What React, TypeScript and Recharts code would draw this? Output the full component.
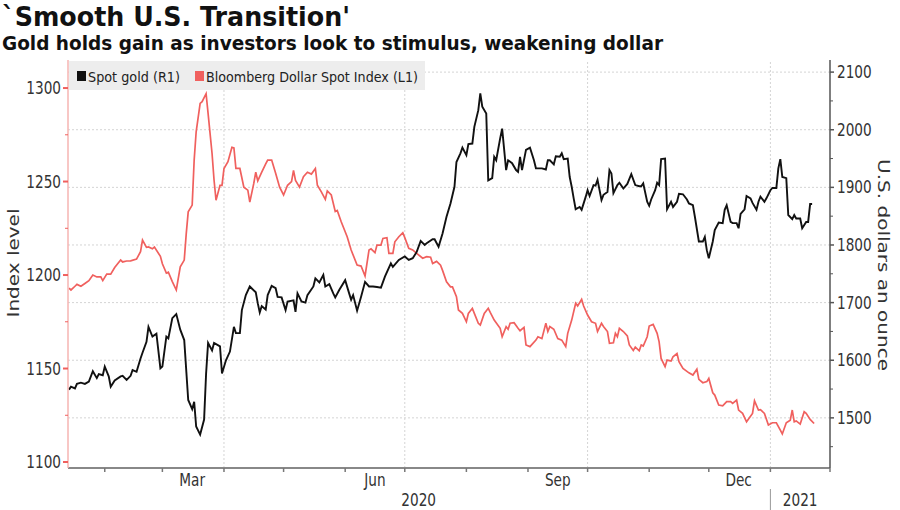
import { LineChart, Line, XAxis, YAxis, ReferenceLine } from 'recharts'

// x values are days counted from 1 Jan 2020 (day 0)
const goldDay = [
  13, 14, 16, 17, 19, 21, 23, 25, 27, 28, 30, 31, 33, 34, 36, 39, 40, 42, 44, 45, 47, 49, 50, 52, 53, 55, 57, 59, 60, 62,
  63, 65, 67, 69, 71, 73, 75, 76, 77, 79, 81, 82, 83, 85, 86, 89, 90, 92, 94, 96, 97, 99, 100, 102, 104, 107, 108, 109,
  110, 112, 113, 115, 117, 118, 120, 122, 123, 126, 127, 128, 130, 132, 133, 136, 137, 139, 141, 142, 144, 146, 147, 149,
  152, 154, 155, 156, 158, 160, 162, 164, 166, 168, 170, 172, 175, 176, 179, 182, 184, 186, 188, 190, 192, 193, 196, 197,
  199, 201, 203, 205, 207, 208, 210, 211, 213, 214, 216, 217, 219, 220, 221, 223, 224, 226, 227, 228, 230, 231, 233, 234,
  236, 238, 239, 240, 241, 243, 245, 247, 248, 251, 253, 254, 255, 257, 258, 260, 261, 262, 264, 265, 266, 267, 268, 270,
  271, 273, 274, 275, 277, 278, 279, 281, 282, 284, 285, 286, 287, 289, 290, 292, 294, 296, 298, 300, 301, 302, 304, 305,
  306, 308, 309, 310, 311, 313, 314, 316, 317, 319, 320, 322, 324, 325, 327, 328, 330, 332, 333, 334, 335, 337, 338, 340,
  342, 343, 344, 346, 347, 349, 350, 351, 353, 354, 356, 357, 359, 360, 361, 363, 364, 366, 367, 369, 370, 371, 372, 374,
  375, 377, 378, 379, 381, 382, 384, 385, 386, 387,
]
const goldPrice = [
  1549, 1554, 1551, 1559, 1561, 1559, 1563, 1581, 1569, 1576, 1574, 1589, 1572, 1554, 1565, 1572, 1573, 1566, 1573, 1583,
  1580, 1603, 1613, 1632, 1658, 1641, 1646, 1586, 1589, 1641, 1638, 1673, 1680, 1653, 1635, 1531, 1515, 1528, 1485, 1471,
  1497, 1577, 1630, 1617, 1630, 1624, 1577, 1600, 1615, 1658, 1647, 1647, 1687, 1713, 1728, 1718, 1699, 1683, 1694, 1688,
  1713, 1729, 1725, 1710, 1709, 1687, 1702, 1704, 1684, 1716, 1702, 1700, 1713, 1728, 1742, 1735, 1748, 1728, 1732, 1716,
  1709, 1722, 1739, 1716, 1705, 1713, 1686, 1710, 1736, 1728, 1728, 1727, 1726, 1745, 1768, 1762, 1774, 1780, 1774, 1777,
  1788, 1807, 1800, 1803, 1810, 1810, 1797, 1820, 1849, 1872, 1901, 1944, 1959, 1969, 1956, 1975, 1976, 2005, 2034, 2063,
  2040, 2028, 1912, 1916, 1953, 1947, 1985, 2002, 1930, 1947, 1942, 1930, 1927, 1953, 1930, 1965, 1969, 1947, 1933, 1933,
  1931, 1947, 1947, 1940, 1954, 1953, 1959, 1949, 1950, 1918, 1901, 1881, 1862, 1866, 1861, 1883, 1895, 1885, 1904, 1903,
  1913, 1878, 1887, 1892, 1930, 1924, 1890, 1904, 1908, 1898, 1906, 1923, 1904, 1902, 1902, 1907, 1875, 1868, 1879, 1895,
  1908, 1904, 1949, 1950, 1862, 1875, 1866, 1875, 1889, 1888, 1879, 1872, 1869, 1849, 1806, 1806, 1814, 1791, 1777, 1806,
  1826, 1839, 1838, 1861, 1869, 1840, 1838, 1838, 1829, 1854, 1862, 1885, 1881, 1873, 1861, 1875, 1884, 1875, 1881, 1895,
  1899, 1899, 1933, 1949, 1918, 1916, 1852, 1845, 1852, 1846, 1846, 1829, 1840, 1840, 1871, 1871,
]

const dollarDay = [
  13, 14, 16, 17, 19, 21, 23, 25, 27, 29, 30, 32, 34, 36, 39, 40, 42, 44, 47, 49, 50, 52, 53, 55, 56, 59, 60, 62, 63, 65,
  67, 69, 71, 72, 73, 75, 76, 77, 79, 80, 82, 83, 85, 86, 87, 89, 90, 91, 93, 95, 96, 97, 99, 101, 103, 104, 106, 107, 108,
  110, 112, 113, 115, 117, 119, 121, 123, 125, 126, 127, 129, 131, 133, 135, 137, 138, 140, 142, 143, 145, 147, 148, 150,
  153, 155, 158, 160, 162, 164, 165, 167, 168, 170, 171, 173, 174, 176, 177, 179, 181, 182, 184, 186, 188, 191, 193, 195,
  196, 198, 200, 201, 203, 205, 206, 208, 209, 211, 213, 214, 216, 217, 219, 220, 222, 224, 225, 227, 230, 231, 233, 234,
  235, 237, 239, 240, 242, 243, 245, 248, 249, 251, 253, 254, 255, 257, 259, 261, 263, 264, 266, 268, 269, 271, 272, 274,
  276, 278, 279, 281, 282, 284, 285, 287, 288, 289, 290, 292, 294, 295, 297, 298, 300, 301, 302, 304, 305, 307, 309, 310,
  311, 313, 314, 316, 317, 319, 320, 322, 325, 327, 329, 330, 332, 334, 335, 337, 338, 340, 342, 344, 346, 347, 349, 350,
  352, 354, 357, 358, 360, 361, 363, 365, 367, 369, 371, 372, 374, 376, 377, 378, 379, 381, 383, 384, 386, 388,
]
const dollarIndex = [
  1193, 1192, 1194, 1195, 1194, 1195.5, 1197, 1200, 1199, 1199, 1197, 1200.5, 1200.5, 1204, 1208, 1207, 1207.5, 1207.6,
  1208.5, 1212.5, 1218.7, 1214.8, 1215, 1214, 1215, 1210, 1206, 1201, 1201.5, 1196.5, 1192, 1204.4, 1208, 1222, 1233.8,
  1237.4, 1261.5, 1276.6, 1291.8, 1292.7, 1297, 1286.5, 1265, 1250.8, 1240, 1248, 1248, 1257, 1260.6, 1268.3, 1268, 1257,
  1257, 1247, 1245.4, 1239, 1249, 1255, 1250.4, 1255, 1259.4, 1261.5, 1261.5, 1254.4, 1247, 1242.8, 1248, 1250, 1256,
  1250.6, 1247, 1252.6, 1255, 1254, 1257, 1248, 1244.5, 1240.5, 1245, 1242.8, 1234, 1234.5, 1228.5, 1220.5, 1213.4,
  1205.3, 1204.8, 1199.5, 1213.4, 1214, 1212, 1216, 1216, 1219.6, 1220, 1211.6, 1211.6, 1217.8, 1220.5, 1222.6, 1220,
  1214.3, 1213.4, 1211.6, 1209, 1209.8, 1209.5, 1206.2, 1207.3, 1205.3, 1202.5, 1196.4, 1193.7, 1193.7, 1188.4, 1181.3,
  1179.5, 1175, 1179.5, 1182.2, 1179.5, 1174.2, 1173.3, 1179.5, 1182.2, 1180, 1175.9, 1171.5, 1167, 1172.4, 1171, 1174.2,
  1174.5, 1171.5, 1170.2, 1172, 1162.6, 1161.7, 1165.2, 1167, 1166, 1174.2, 1169.8, 1172.4, 1171, 1166, 1165.2, 1161.7,
  1168.8, 1175.9, 1184.9, 1183.5, 1187, 1183.4, 1178.6, 1175, 1174.2, 1169.8, 1174.2, 1172.5, 1169.8, 1163.5, 1163.8,
  1168.8, 1167, 1171.5, 1169.8, 1167.5, 1162.6, 1159.7, 1161.5, 1159.5, 1162.6, 1162, 1167, 1172.7, 1173.6, 1168.8, 1164.3,
  1155.4, 1151, 1154.5, 1154, 1156.3, 1158, 1153.6, 1150, 1147.7, 1146.5, 1149.6, 1144.2, 1142.4, 1143, 1144.7, 1137,
  1135.8, 1130.5, 1130, 1132.3, 1132.3, 1131.4, 1133.1, 1127.8, 1126, 1121.5, 1126, 1132.7, 1127.8, 1128, 1126, 1119.8,
  1121, 1121, 1117.1, 1115, 1121, 1122.4, 1127.8, 1121.5, 1122, 1120.3, 1126.9, 1126, 1122.8, 1120.6,
]

const monthTicks = [31, 60, 91, 121, 152, 182, 213, 244, 274, 305, 335, 366, 396]
const quarterStarts = [91, 182, 274, 366]
const monthLabels = [
  { day: 75, label: 'Mar' },
  { day: 167, label: 'Jun' },
  { day: 259, label: 'Sep' },
  { day: 350, label: 'Dec' },
]
const yearLabels = [
  { day: 189, label: '2020' },
  { day: 381, label: '2021' },
]
const yearBreak = 366
const indexTicks = [1100, 1125, 1150, 1175, 1200, 1225, 1250, 1275, 1300]
const ounceTicks = [1450, 1500, 1550, 1600, 1650, 1700, 1750, 1800, 1850, 1900, 1950, 2000, 2050, 2100]
const ounceGrid = [1500, 1600, 1700, 1800, 1900, 2000, 2100]

const goldData = goldDay.map((day, i) => ({ day, v: goldPrice[i] }))
const dollarData = dollarDay.map((day, i) => ({ day, v: dollarIndex[i] }))

const RED = '#f0605e'
const FONT = 'DejaVu Sans'
const TEXT = '#333'

function DateTick({ x, y, payload }: any) {
  const v = payload.value
  const month = monthLabels.find((m) => m.day === v)
  const year = yearLabels.find((m) => m.day === v)
  if (month || year) {
    const item = (month || year)!
    return (
      <text
        transform={`translate(${x},${y + (month ? 18 : 38)}) scale(0.78,1)`}
        textAnchor="middle"
        fontFamily={FONT}
        fontSize={17.5}
        fill={TEXT}
      >
        {item.label}
      </text>
    )
  }
  return (
    <g>
      <line x1={x} x2={x} y1={y} y2={y + 4} stroke="#777" strokeWidth={1.5} />
      {v === yearBreak && <line x1={x} x2={x} y1={y + 21} y2={y + 42} stroke="#999" />}
    </g>
  )
}

function IndexTick({ x, y, payload }: any) {
  const major = payload.value % 50 === 0
  return (
    <g>
      <line x1={x - (major ? 5 : 3)} x2={x} y1={y} y2={y} stroke={RED} strokeWidth={major ? 2 : 1} />
      {major && (
        <text
          transform={`translate(${x - 7},${y + 6}) scale(0.78,1)`}
          textAnchor="end"
          fontFamily={FONT}
          fontSize={17.5}
          fill={TEXT}
        >
          {payload.value}
        </text>
      )}
    </g>
  )
}

function OunceTick({ x, y, payload }: any) {
  const major = payload.value % 100 === 0
  return (
    <g>
      <line x1={x} x2={x + (major ? 4 : 3)} y1={y} y2={y} stroke="#555" strokeWidth={major ? 1.5 : 1} />
      {major && (
        <text
          transform={`translate(${x + 7},${y + 6}) scale(0.78,1)`}
          textAnchor="start"
          fontFamily={FONT}
          fontSize={17.5}
          fill={TEXT}
        >
          {payload.value}
        </text>
      )}
    </g>
  )
}

export default function App() {
  const dateTicks = [...monthTicks, ...monthLabels.map((m) => m.day), ...yearLabels.map((m) => m.day)].sort(
    (a, b) => a - b,
  )
  return (
    <div style={{ position: 'absolute', left: 0, top: 0, width: 900, height: 510, background: '#fff' }}>
      <LineChart width={900} height={510} margin={{ top: 60, right: 8, bottom: 12, left: 8 }}>
        <XAxis
          dataKey="day"
          type="number"
          domain={[12.5, 396]}
          allowDataOverflow
          ticks={dateTicks}
          interval={0}
          tick={DateTick}
          tickLine={false}
          tickSize={0}
          tickMargin={0}
          height={30}
          axisLine={{ stroke: '#888', strokeWidth: 2 }}
        />
        <YAxis
          yAxisId="left"
          orientation="left"
          type="number"
          domain={[1096.8, 1315]}
          allowDataOverflow
          ticks={indexTicks}
          interval={0}
          tick={IndexTick}
          tickLine={false}
          tickSize={0}
          tickMargin={0}
          width={60}
          axisLine={{ stroke: '#f6b4b2', strokeWidth: 1.5 }}
        />
        <YAxis
          yAxisId="right"
          orientation="right"
          type="number"
          domain={[1413, 2121]}
          allowDataOverflow
          ticks={ounceTicks}
          interval={0}
          tick={OunceTick}
          tickLine={false}
          tickSize={0}
          tickMargin={0}
          width={62}
          axisLine={{ stroke: '#555', strokeWidth: 1.5 }}
        />
        {ounceGrid.map((v) => (
          <ReferenceLine key={'h' + v} yAxisId="right" y={v} stroke="#d4d4d4" strokeDasharray="2 2" />
        ))}
        {quarterStarts.map((d) => (
          <ReferenceLine key={'v' + d} yAxisId="left" x={d} stroke="#d4d4d4" strokeDasharray="2 2" />
        ))}
        <Line
          yAxisId="left"
          data={dollarData}
          dataKey="v"
          type="linear"
          stroke={RED}
          strokeWidth={1.7}
          dot={false}
          isAnimationActive={false}
        />
        <Line
          yAxisId="right"
          data={goldData}
          dataKey="v"
          type="linear"
          stroke="#111"
          strokeWidth={1.9}
          dot={false}
          isAnimationActive={false}
        />
      </LineChart>
      <svg
        width={900}
        height={510}
        style={{ position: 'absolute', left: 0, top: 0, pointerEvents: 'none' }}
        fontFamily={FONT}
      >
        <text x={2} y={26} fontSize={27} fontWeight="bold" fill="#111" textLength={348} lengthAdjust="spacingAndGlyphs">
          `Smooth U.S. Transition'
        </text>
        <text x={2} y={50} fontSize={20} fontWeight="bold" fill="#111" textLength={661} lengthAdjust="spacingAndGlyphs">
          Gold holds gain as investors look to stimulus, weakening dollar
        </text>
        <rect x={69} y={61} width={356} height={29} fill="#ededed" />
        <rect x={77} y={71} width={9} height={10} fill="#111" />
        <text x={88} y={82} fontSize={14} fill="#222" textLength={92} lengthAdjust="spacingAndGlyphs">
          Spot gold (R1)
        </text>
        <rect x={195} y={71} width={9} height={10} fill={RED} />
        <text x={206} y={82} fontSize={14} fill="#222" textLength={212} lengthAdjust="spacingAndGlyphs">
          Bloomberg Dollar Spot Index (L1)
        </text>
        <text
          transform="translate(19,263) scale(0.8,1) rotate(-90)"
          textAnchor="middle"
          fontSize={20}
          fill={TEXT}
        >
          Index level
        </text>
        <text
          transform="translate(878,265) scale(0.8,1) rotate(90)"
          textAnchor="middle"
          fontSize={20}
          fill={TEXT}
        >
          U.S. dollars an ounce
        </text>
      </svg>
    </div>
  )
}
